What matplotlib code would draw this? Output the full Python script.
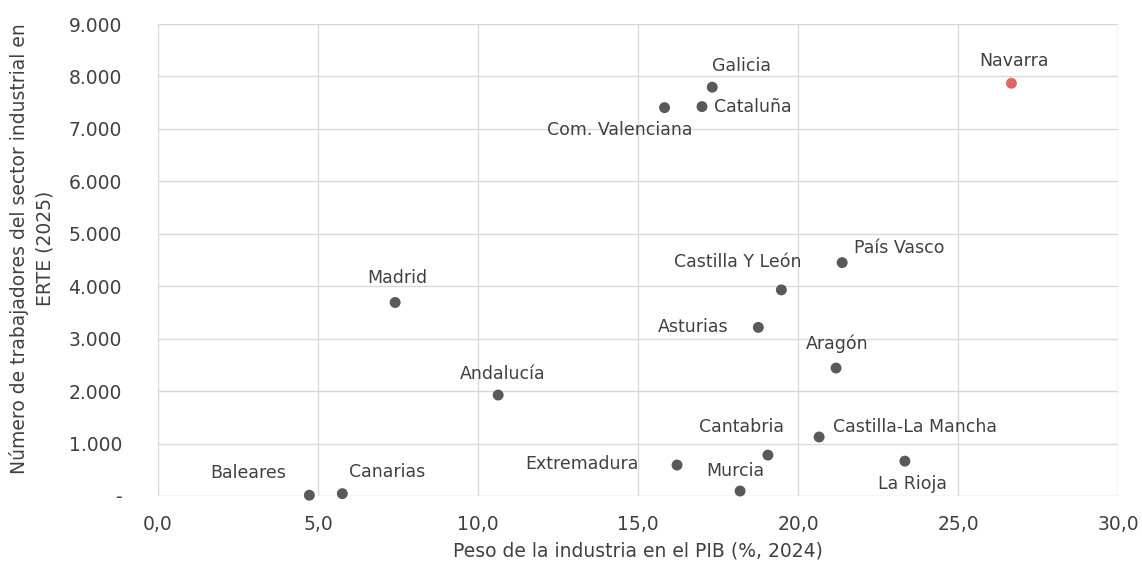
import matplotlib
matplotlib.use("Agg")
import matplotlib.pyplot as plt
from matplotlib.ticker import FuncFormatter

regions = ["Baleares", "Canarias", "Madrid", "Andalucía", "Com. Valenciana", "Cataluña",
           "Galicia", "Extremadura", "Murcia", "Cantabria", "Asturias", "Castilla Y León",
           "Castilla-La Mancha", "Aragón", "País Vasco", "La Rioja", "Navarra"]
peso_pib = [4.73, 5.76, 7.41, 10.63, 15.83, 17.00, 17.32, 16.22, 18.19, 19.06, 18.76, 19.48,
            20.66, 21.19, 21.38, 23.34, 26.67]
trabajadores = [15, 45, 3690, 1925, 7405, 7425, 7795, 590, 95, 780, 3215, 3930,
                1125, 2440, 4450, 665, 7870]

# label placement: (dx px, dy px, ha)
label_pos = {
    "Baleares": (-61, 22, "center"),
    "Canarias": (45, 22, "center"),
    "Madrid": (2, 24, "center"),
    "Andalucía": (5, 21, "center"),
    "Com. Valenciana": (28, -22, "right"),
    "Cataluña": (12, 0, "left"),
    "Galicia": (29, 21, "center"),
    "Extremadura": (-38, 1, "right"),
    "Murcia": (-5, 20, "center"),
    "Cantabria": (16, 28, "right"),
    "Asturias": (-30, 0, "right"),
    "Castilla Y León": (20, 28, "right"),
    "Castilla-La Mancha": (14, 10, "left"),
    "Aragón": (1, 24, "center"),
    "País Vasco": (12, 15, "left"),
    "La Rioja": (8, -23, "center"),
    "Navarra": (3, 22, "center"),
}

text_color = "#404040"
fig = plt.figure(figsize=(11.42, 5.65), dpi=100)
ax = fig.add_axes([158 / 1142, 1 - 496 / 565, (1118 - 158) / 1142, (496 - 24) / 565])

colors = ["#E06666" if r == "Navarra" else "#595959" for r in regions]
ax.scatter(peso_pib, trabajadores, s=62, c=colors, zorder=3, clip_on=False, linewidths=0)

for r, x, y in zip(regions, peso_pib, trabajadores):
    dx, dy, ha = label_pos[r]
    ax.annotate(r, (x, y), xytext=(dx, dy), textcoords="offset pixels",
                ha=ha, va="center", fontsize=12.5, color=text_color)

ax.set_xlim(0, 30)
ax.set_ylim(0, 9000)
ax.set_xticks(range(0, 31, 5))
ax.set_yticks(range(0, 9001, 1000))
ax.xaxis.set_major_formatter(FuncFormatter(lambda v, p: f"{v:.1f}".replace(".", ",")))
ax.yaxis.set_major_formatter(FuncFormatter(
    lambda v, p: "-" if v == 0 else f"{int(v):,}".replace(",", ".")))
ax.grid(True, color="#d9d9d9", linewidth=1)
ax.set_axisbelow(True)
for s in ax.spines.values():
    s.set_visible(False)
ax.tick_params(length=0, labelsize=13.5, colors=text_color)
ax.tick_params(axis="x", pad=14)
ax.tick_params(axis="y", pad=26)

ax.set_xlabel("Peso de la industria en el PIB (%, 2024)", fontsize=13.5, color=text_color, labelpad=5)
ax.set_ylabel("Número de trabajadores del sector industrial en\nERTE (2025)", fontsize=13.5,
              color=text_color, labelpad=10, linespacing=1.4)
ax.yaxis.label.set_y(0.525)

fig.savefig("out.png", dpi=100)
